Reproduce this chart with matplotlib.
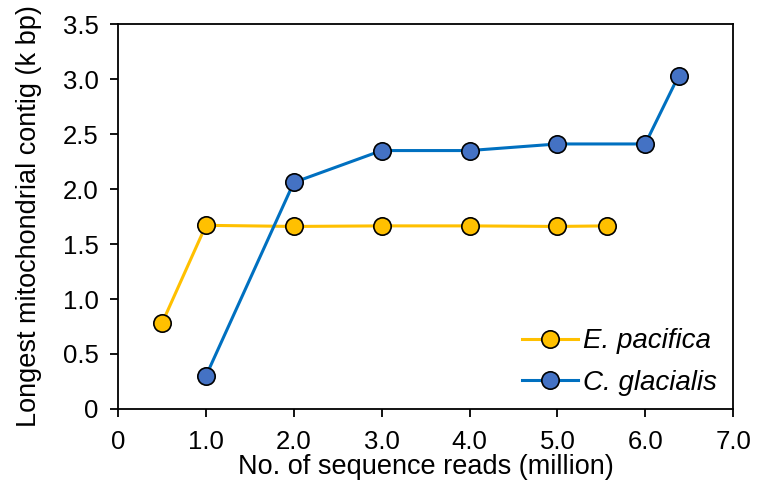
import matplotlib.pyplot as plt
from matplotlib.ticker import FuncFormatter

plt.rcParams['font.family'] = ['Liberation Sans', 'DejaVu Sans']

# E. pacifica
ep_x = [0.5, 1.0, 2.0, 3.0, 4.0, 5.0, 5.57]
ep_y = [0.78, 1.67, 1.66, 1.665, 1.665, 1.66, 1.665]
# C. glacialis
cg_x = [1.0, 2.0, 3.0, 4.0, 5.0, 6.0, 6.38]
cg_y = [0.30, 2.06, 2.35, 2.35, 2.41, 2.41, 3.03]

fig = plt.figure(figsize=(7.57, 4.82), dpi=100)
ax = fig.add_axes([0.156, 0.1515, 0.8124, 0.7985])

ax.plot(ep_x, ep_y, color='#FFC000', lw=2.2, marker='o', ms=12.5,
        mfc='#FFC000', mec='black', mew=1.2, label='E. pacifica')
ax.plot(cg_x, cg_y, color='#0070C0', lw=2.2, marker='o', ms=12.5,
        mfc='#4472C4', mec='black', mew=1.2, label='C. glacialis')

ax.set_xlim(0, 7)
ax.set_ylim(0, 3.5)
ax.set_xticks([0, 1, 2, 3, 4, 5, 6, 7])
ax.set_yticks([0, 0.5, 1.0, 1.5, 2.0, 2.5, 3.0, 3.5])
fmt = FuncFormatter(lambda v, p: '0' if v == 0 else f'{v:.1f}')
ax.xaxis.set_major_formatter(fmt)
ax.yaxis.set_major_formatter(fmt)
ax.tick_params(direction='out', length=6, width=1.3, labelsize=18.5)
ax.tick_params(axis='y', pad=8)
ax.tick_params(axis='x', pad=9)
for s in ax.spines.values():
    s.set_linewidth(1.3)

ax.set_xlabel('No. of sequence reads (million)', fontsize=19.5, labelpad=0)
ax.set_ylabel('Longest mitochondrial contig (k bp)', fontsize=19.5, labelpad=15)

leg = ax.legend(loc='lower right', bbox_to_anchor=(1.015, -0.03), frameon=False,
                prop={'style': 'italic', 'size': 20}, handlelength=2.0,
                handletextpad=0.2, labelspacing=0.55)

fig.savefig('out.png', dpi=100)
